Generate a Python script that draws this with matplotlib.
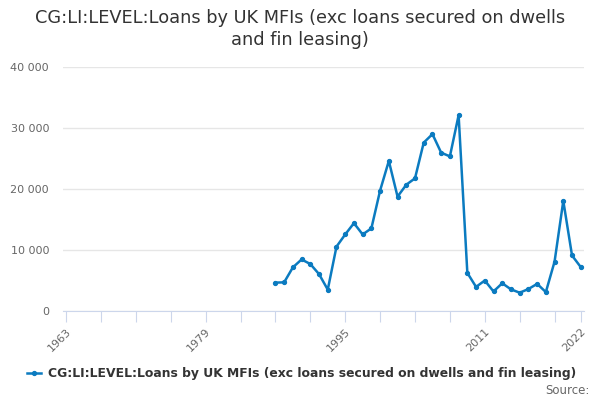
## Import necessary libraries
import matplotlib.pyplot as plt
from matplotlib.ticker import FuncFormatter, FixedLocator

## Data
years = list(range(1987, 2023))
loans = [4650, 4700, 7150, 8450, 7700, 6050, 3500, 10550, 12550, 14400,
         12550, 13550, 19750, 24600, 18750, 20700, 21750, 27600, 29000, 25950,
         25350, 32100, 6250, 3950, 5000, 3200, 4550, 3550, 3000, 3600,
         4450, 3100, 8100, 18050, 9100, 7200]
tick_years = list(range(1963, 2020, 4)) + [2022]
label_years = [1963, 1979, 1995, 2011, 2022]
y_ticks = [0, 10000, 20000, 30000, 40000]

line_color = '#0b7bc0'
text_color = '#666666'

fig = plt.figure(figsize=(6, 4), dpi=100)
ax = fig.add_axes([0.105, 0.2225, 0.868, 0.61])

ax.plot(years, loans, color=line_color, linewidth=1.8, marker='o', markersize=2.8,
        label='CG:LI:LEVEL:Loans by UK MFIs (exc loans secured on dwells and fin leasing)')

ax.set_xlim(1962.65, 2022.35)
ax.set_ylim(0, 40000)

## Y axis
ax.set_yticks(y_ticks)
ax.yaxis.set_major_formatter(FuncFormatter(lambda v, p: f'{int(v):,}'.replace(',', ' ')))
ax.grid(axis='y', color='#e6e6e6', linewidth=1)
ax.set_axisbelow(True)
ax.tick_params(axis='y', length=0, labelsize=8, labelcolor=text_color, pad=10)

## X axis
ax.xaxis.set_major_locator(FixedLocator(tick_years))
ax.set_xticklabels([str(y) if y in label_years else '' for y in tick_years],
                   rotation=45, ha='right', rotation_mode='anchor')
ax.tick_params(axis='x', direction='out', length=8, color='#ccd6eb',
               labelsize=8, labelcolor=text_color, pad=3)

for side in ['top', 'right', 'left']:
    ax.spines[side].set_visible(False)
ax.spines['bottom'].set_color('#ccd6eb')

fig.text(0.5, 0.927, 'CG:LI:LEVEL:Loans by UK MFIs (exc loans secured on dwells\nand fin leasing)',
         ha='center', va='center', fontsize=12.8, color='#333333', linespacing=1.25)

leg = fig.legend(loc='center', bbox_to_anchor=(0.502, 0.065), frameon=False,
                 prop={'weight': 'bold', 'size': 8.9}, handlelength=1.2,
                 handletextpad=0.5, labelcolor='#333333')

fig.text(0.982, 0.025, 'Source:', ha='right', va='center', fontsize=8.5, color=text_color)

fig.savefig('out.png', dpi=100)
